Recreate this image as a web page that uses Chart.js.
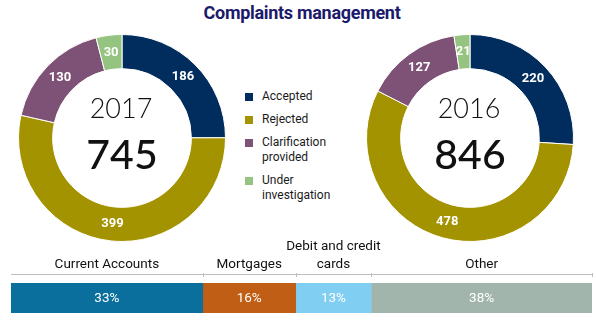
<!DOCTYPE html>
<html>
<head>
<meta charset="utf-8" />
<title>Complaints management</title>
<script src="https://cdn.jsdelivr.net/npm/chart.js@4.4.0/dist/chart.umd.min.js"></script>
<style>
  body { margin: 0; padding: 0; background: #fff; width: 596px; height: 323px; overflow: hidden;
         font-family: Roboto, "Liberation Sans", sans-serif; }
  #title { position: absolute; left: 0; width: 604px; top: 2px; text-align: center;
           font-size: 18px; font-weight: bold; color: #1b1a6b; letter-spacing: -0.3px; }
  .donut { position: absolute; top: 34px; width: 208px; height: 208px; }
  #d2017 { left: 18px; }
  #d2016 { left: 366px; }
  #legend { position: absolute; left: 245px; top: 89px; font-size: 12px; color: #1a1a1a; line-height: 15px; }
  #legend .item { position: relative; padding-left: 17px; margin-bottom: 8px; }
  #legend .sw { position: absolute; left: 0; top: 4px; width: 8px; height: 8px; }
  #bar { position: absolute; left: 0; top: 240px; width: 596px; height: 83px; }
</style>
</head>
<body>
<div id="title">Complaints management</div>
<div class="donut" id="d2017"><canvas id="c2017"></canvas></div>
<div id="legend"></div>
<div class="donut" id="d2016"><canvas id="c2016"></canvas></div>
<div id="bar"><canvas id="cbar"></canvas></div>

<script>
// data
var statuses = ['Accepted', 'Rejected', 'Clarification provided', 'Under investigation'];
var statusLegend = ['Accepted', 'Rejected', 'Clarification<br>provided', 'Under<br>investigation'];
var statusColors = ['#002d5d', '#a39300', '#7e5176', '#94c47f'];
var values2017 = [186, 399, 130, 30];
var values2016 = [220, 478, 127, 21];

var products = ['Current Accounts', 'Mortgages', ['Debit and credit', 'cards'], 'Other'];
var productShares = [33, 16, 13, 38];
var productColors = ['#0a6f9c', '#c05e16', '#80cff2', '#a2b5ad'];

var sans = 'Roboto, "Liberation Sans", sans-serif';

// legend
var lg = document.getElementById('legend');
statusLegend.forEach(function (s, i) {
  var d = document.createElement('div');
  d.className = 'item';
  d.innerHTML = '<span class="sw" style="background:' + statusColors[i] + '"></span>' + s;
  lg.appendChild(d);
});

var sliceLabels = {
  id: 'sliceLabels',
  afterDatasetsDraw: function (chart) {
    var ctx = chart.ctx;
    var meta = chart.getDatasetMeta(0);
    ctx.save();
    ctx.fillStyle = '#fff';
    ctx.font = 'bold 13px ' + sans;
    ctx.textAlign = 'center';
    ctx.textBaseline = 'middle';
    meta.data.forEach(function (arc, i) {
      var p = arc.tooltipPosition();
      ctx.fillText(chart.data.datasets[0].data[i], p.x, p.y);
    });
    ctx.restore();
  }
};

var centerText = {
  id: 'centerText',
  afterDraw: function (chart) {
    var opts = chart.options.plugins.centerText;
    var ctx = chart.ctx;
    var a = chart.chartArea;
    var cx = (a.left + a.right) / 2, cy = (a.top + a.bottom) / 2;
    var total = chart.data.datasets[0].data.reduce(function (x, y) { return x + y; }, 0);
    ctx.save();
    ctx.fillStyle = '#111';
    ctx.textAlign = 'center';
    ctx.textBaseline = 'middle';
    ctx.font = '300 27px Lato, "Open Sans", sans-serif';
    ctx.fillText(opts.year, cx - 1, cy - 29);
    ctx.font = '500 41px Lato, "Open Sans", sans-serif';
    ctx.fillText(total, cx, cy + 18);
    ctx.restore();
  }
};

function donut(id, year, values) {
  new Chart(document.getElementById(id), {
    type: 'doughnut',
    data: {
      labels: statuses,
      datasets: [{
        data: values,
        backgroundColor: statusColors,
        borderColor: '#fff',
        borderWidth: 1
      }]
    },
    options: {
      responsive: true,
      maintainAspectRatio: false,
      animation: false,
      cutout: '67%',
      layout: { padding: 0 },
      plugins: {
        legend: { display: false },
        tooltip: { enabled: false },
        centerText: { year: year }
      }
    },
    plugins: [sliceLabels, centerText]
  });
}

donut('c2017', '2017', values2017);
donut('c2016', '2016', values2016);

var barLabels = {
  id: 'barLabels',
  afterDraw: function (chart) {
    var ctx = chart.ctx;
    var a = chart.chartArea;
    var x = chart.scales.x;
    var lineY = a.top - 9;
    ctx.save();
    ctx.strokeStyle = '#bdbdbd';
    ctx.lineWidth = 1;
    ctx.beginPath();
    ctx.moveTo(a.left, lineY + 0.5);
    ctx.lineTo(a.right, lineY + 0.5);
    var acc = 0;
    var bounds = [0];
    productShares.forEach(function (v) { acc += v; bounds.push(acc); });
    bounds.forEach(function (b, i) {
      if (i === 0) return;
      var px = Math.round(x.getPixelForValue(b)) + 0.5;
      ctx.moveTo(px, lineY - 1);
      ctx.lineTo(px, lineY + 3);
    });
    ctx.stroke();

    ctx.textAlign = 'center';
    ctx.textBaseline = 'alphabetic';
    ctx.fillStyle = '#111';
    ctx.font = '13.5px ' + sans;
    products.forEach(function (p, i) {
      var cx = (x.getPixelForValue(bounds[i]) + x.getPixelForValue(bounds[i + 1])) / 2;
      var lines = Array.isArray(p) ? p : [p];
      lines.forEach(function (l, j) {
        ctx.fillText(l, cx, lineY - 6 - (lines.length - 1 - j) * 18);
      });
    });

    ctx.fillStyle = '#fff';
    ctx.font = '13.5px ' + sans;
    ctx.textBaseline = 'middle';
    chart.data.datasets.forEach(function (ds, i) {
      var el = chart.getDatasetMeta(i).data[0];
      var c = el.getCenterPoint();
      ctx.fillText(ds.data[0] + '%', c.x, c.y + 1);
    });
    ctx.restore();
  }
};

new Chart(document.getElementById('cbar'), {
  type: 'bar',
  data: {
    labels: ['Products'],
    datasets: productShares.map(function (v, i) {
      return {
        label: Array.isArray(products[i]) ? products[i].join(' ') : products[i],
        data: [v],
        backgroundColor: productColors[i],
        borderWidth: 0,
        barPercentage: 1,
        categoryPercentage: 1
      };
    })
  },
  options: {
    indexAxis: 'y',
    responsive: true,
    maintainAspectRatio: false,
    animation: false,
    layout: { padding: { left: 11, right: 4, top: 43, bottom: 10 } },
    scales: {
      x: { stacked: true, min: 0, max: 100, display: false },
      y: { stacked: true, display: false }
    },
    plugins: {
      legend: { display: false },
      tooltip: { enabled: false }
    }
  },
  plugins: [barLabels]
});
</script>
</body>
</html>
